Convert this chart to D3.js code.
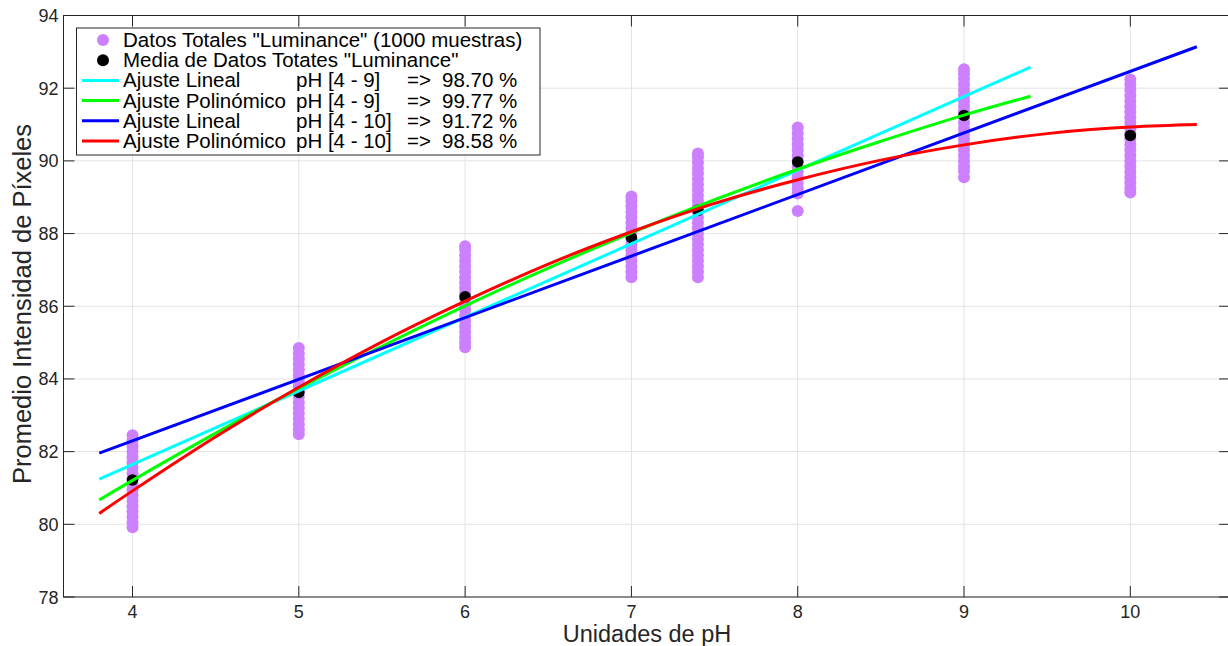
<!DOCTYPE html>
<html><head><meta charset="utf-8">
<script src="https://cdn.jsdelivr.net/npm/d3@7"></script>
<style>
body{margin:0;background:#fff;}
svg{display:block;font-family:"Liberation Sans",Arial,Helvetica,sans-serif;}
</style></head>
<body><svg id="chart" width="1228" height="646"></svg>
<script>
// ---- data ----
const phLevels = [4, 5, 6, 7, 7.4, 8, 9, 10];
const meanValues = [81.22, 83.63, 86.26, 87.89, 88.64, 89.97, 91.25, 90.70];
const samples4  = [79.92,80.05,80.2,80.35,80.5,80.65,80.8,80.95,81.1,81.25,81.4,81.55,81.7,81.85,82.0,82.15,82.3,82.45];
const samples5  = [82.48,82.6,82.75,82.9,83.05,83.2,83.35,83.5,83.65,83.8,83.95,84.1,84.25,84.4,84.55,84.7,84.85];
const samples6  = [84.87,85.0,85.15,85.3,85.45,85.6,85.75,85.9,86.05,86.2,86.35,86.5,86.65,86.8,86.95,87.1,87.25,87.4,87.55,87.65];
const samples7  = [86.8,86.95,87.1,87.25,87.4,87.55,87.7,87.85,88.0,88.15,88.3,88.45,88.6,88.75,88.9,89.02];
const samples74 = [86.8,86.95,87.1,87.25,87.4,87.55,87.7,87.85,88.0,88.15,88.3,88.45,88.6,88.75,88.9,89.05,89.2,89.35,89.5,89.65,89.8,89.95,90.1,90.2];
const samples8  = [88.62,89.1,89.25,89.4,89.55,89.7,89.85,90.0,90.15,90.3,90.45,90.6,90.75,90.92];
const samples9  = [89.55,89.72,89.85,90.0,90.15,90.3,90.45,90.6,90.75,90.9,91.05,91.2,91.35,91.5,91.65,91.8,91.95,92.1,92.25,92.4,92.52];
const samples10 = [89.13,89.25,89.4,89.55,89.7,89.85,90.0,90.15,90.3,90.45,90.6,90.75,90.9,91.05,91.2,91.35,91.5,91.65,91.8,91.95,92.1,92.24];
const sampleSets = [samples4, samples5, samples6, samples7, samples74, samples8, samples9, samples10];

// fitted curves
const linFit9X  = [3.8, 9.4];
const linFit9Y  = [81.24, 92.58];
const polyFit9X = [3.8, 4, 4.5, 5, 5.5, 6, 6.5, 7, 7.5, 8, 8.5, 9, 9.4];
const polyFit9Y = [80.67, 81.21, 82.51, 83.74, 84.90, 86.01, 87.05, 88.02, 88.93, 89.77, 90.54, 91.26, 91.78];
const linFit10X = [3.8, 10.4];
const linFit10Y = [81.96, 93.14];
const polyFit10X = [3.8, 4, 4.5, 5, 5.5, 6, 6.5, 7, 7.5, 8, 8.5, 9, 9.5, 10, 10.4];
const polyFit10Y = [80.30, 80.92, 82.41, 83.77, 85.02, 86.14, 87.16, 88.05, 88.83, 89.48, 90.02, 90.44, 90.75, 90.93, 91.00];

const xTicks = [4, 5, 6, 7, 8, 9, 10];
const yTicks = [78, 80, 82, 84, 86, 88, 90, 92, 94];

const legendLabels = [
  ['Datos Totales "Luminance" (1000 muestras)'],
  ['Media de Datos Totates "Luminance"'],
  ['Ajuste Lineal', 'pH [4 - 9]', '=>', '98.70 %'],
  ['Ajuste Polinómico', 'pH [4 - 9]', '=>', '99.77 %'],
  ['Ajuste Lineal', 'pH [4 - 10]', '=>', '91.72 %'],
  ['Ajuste Polinómico', 'pH [4 - 10]', '=>', '98.58 %']
];

// ---- drawing ----
const svg = d3.select('#chart');
const L = 63.5, T = 15.5, B = 597;
const x = d3.scaleLinear().domain([3.585, 10.6]).range([L, 1230.1]);
const y = d3.scaleLinear().domain([78, 94]).range([B, T]);
const R = x(10.6);
const axisCol = '#262626';

// grid
const grid = svg.append('g');
grid.selectAll('line.gx').data(xTicks).join('line')
  .attr('x1', d => x(d)).attr('x2', d => x(d)).attr('y1', T).attr('y2', B)
  .attr('stroke', '#e3e3e3').attr('stroke-width', 1);
grid.selectAll('line.gy').data(yTicks).join('line')
  .attr('x1', L).attr('x2', R).attr('y1', d => y(d)).attr('y2', d => y(d))
  .attr('stroke', '#e3e3e3').attr('stroke-width', 1);

// samples
const pts = [];
sampleSets.forEach((arr, i) => arr.forEach(v => pts.push([phLevels[i], v])));
svg.append('g').selectAll('circle').data(pts).join('circle')
  .attr('cx', d => x(d[0])).attr('cy', d => y(d[1])).attr('r', 6)
  .attr('fill', '#cc80ff');

// means
svg.append('g').selectAll('circle').data(phLevels).join('circle')
  .attr('cx', d => x(d)).attr('cy', (d, i) => y(meanValues[i])).attr('r', 5.8)
  .attr('fill', '#000');

// fit lines
const fits = [
  {xs: linFit9X, ys: linFit9Y, c: '#00ffff'},
  {xs: polyFit9X, ys: polyFit9Y, c: '#00ff00'},
  {xs: linFit10X, ys: linFit10Y, c: '#0000ff'},
  {xs: polyFit10X, ys: polyFit10Y, c: '#ff0000'}
];
const lineGen = d3.line().x(d => x(d[0])).y(d => y(d[1])).curve(d3.curveNatural);
fits.forEach(f => {
  svg.append('path').datum(f.xs.map((v, i) => [v, f.ys[i]]))
    .attr('d', lineGen).attr('fill', 'none').attr('stroke', f.c).attr('stroke-width', 3);
});

// axes box with inward ticks
const tickLen = 11;
const ax = svg.append('g').attr('stroke', axisCol).attr('stroke-width', 1).attr('fill', 'none');
ax.append('rect').attr('x', L).attr('y', T).attr('width', R - L).attr('height', B - T);
xTicks.forEach(t => {
  ax.append('line').attr('x1', x(t)).attr('x2', x(t)).attr('y1', B).attr('y2', B - tickLen);
  ax.append('line').attr('x1', x(t)).attr('x2', x(t)).attr('y1', T).attr('y2', T + tickLen);
});
yTicks.forEach(t => {
  ax.append('line').attr('x1', L).attr('x2', L + tickLen).attr('y1', y(t)).attr('y2', y(t));
  ax.append('line').attr('x1', R).attr('x2', R - tickLen).attr('y1', y(t)).attr('y2', y(t));
});

// tick labels
svg.append('g').selectAll('text').data(xTicks).join('text')
  .attr('x', d => x(d)).attr('y', B + 21).attr('text-anchor', 'middle')
  .attr('font-size', 18).attr('fill', axisCol).text(d => d);
svg.append('g').selectAll('text').data(yTicks).join('text')
  .attr('x', L - 5).attr('y', d => y(d) + 6.5).attr('text-anchor', 'end')
  .attr('font-size', 18).attr('fill', axisCol).text(d => d);

// axis titles
svg.append('text').attr('x', 647).attr('y', 641.5).attr('text-anchor', 'middle')
  .attr('font-size', 23.5).attr('fill', axisCol).text('Unidades de pH');
svg.append('text').attr('transform', 'translate(31,304) rotate(-90)').attr('text-anchor', 'middle')
  .attr('font-size', 25.5).attr('fill', axisCol).text('Promedio Intensidad de Píxeles');

// legend
const lg = svg.append('g');
lg.append('rect').attr('x', 76.5).attr('y', 28).attr('width', 463.5).attr('height', 127)
  .attr('fill', '#fff').attr('stroke', axisCol).attr('stroke-width', 1);
const rowY = i => 40 + i * 20.2;
const symbols = ['#cc80ff', '#000', '#00ffff', '#00ff00', '#0000ff', '#ff0000'];
legendLabels.forEach((lab, i) => {
  if (i < 2) {
    lg.append('circle').attr('cx', 103).attr('cy', rowY(i)).attr('r', 6).attr('fill', symbols[i]);
  } else {
    lg.append('line').attr('x1', 82).attr('x2', 119).attr('y1', rowY(i)).attr('y2', rowY(i))
      .attr('stroke', symbols[i]).attr('stroke-width', 3);
  }
  const colX = [123, 296, 407, 442];
  lab.forEach((s, j) => {
    lg.append('text').attr('x', colX[j]).attr('y', rowY(i) + 7).attr('font-size', 20.5)
      .attr('fill', '#000').text(s);
  });
});
</script></body></html>
